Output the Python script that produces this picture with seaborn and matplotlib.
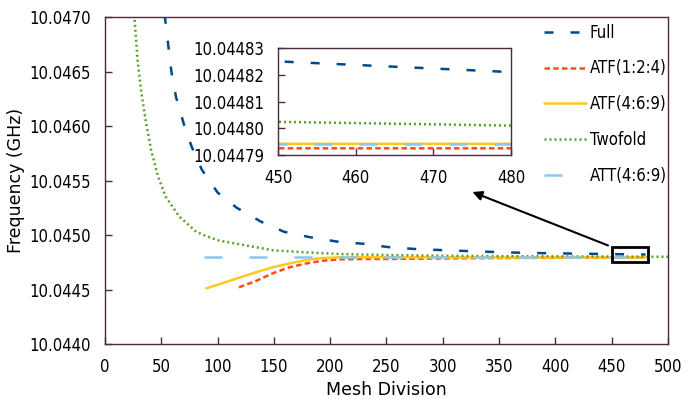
import pandas as pd
import matplotlib
matplotlib.use("Agg")
import matplotlib.pyplot as plt
import matplotlib.patches as patches
from matplotlib import font_manager as fm
from matplotlib.ticker import FormatStrFormatter
import seaborn as sns

full_x = [53, 59, 63, 70, 77, 86, 100, 117, 139, 159, 182, 206, 229, 251, 275, 298, 321, 344, 367, 392, 415, 450, 480]
full_y = [10.04702, 10.04650, 10.04627, 10.04602, 10.04581, 10.04560, 10.04539, 10.04525, 10.04512, 10.04503,
          10.04498, 10.04494, 10.04492, 10.04489, 10.044872, 10.044862, 10.044853, 10.044845, 10.044838,
          10.044833, 10.044830, 10.044825, 10.044821]

atf124_x = [119, 134, 149, 164, 179, 193, 208, 230, 260, 300, 350, 400, 450, 480]
atf124_y = [10.04452, 10.044578, 10.044649, 10.044704, 10.04474, 10.044764, 10.044777, 10.04478, 10.044781,
            10.044785, 10.044789, 10.044791, 10.0447925, 10.0447925]

atf469_x = [90, 104, 119, 134, 149, 164, 179, 193, 208, 230, 260, 300, 350, 400, 450, 480]
atf469_y = [10.044511, 10.044557, 10.044608, 10.044658, 10.044704, 10.04474, 10.044771, 10.044789, 10.044795,
            10.044796, 10.044795, 10.044795, 10.044794, 10.044794, 10.0447942, 10.0447942]

twofold_x = [26, 29, 32, 36, 41, 47, 54, 66, 81, 90, 101, 117, 149, 179, 208, 250, 300, 350, 400, 450, 480, 500]
twofold_y = [10.04702, 10.04660, 10.04633, 10.04606, 10.04578, 10.04554, 10.04535, 10.04517, 10.04503, 10.04499,
             10.04495, 10.04492, 10.04486, 10.044841, 10.044826, 10.044816, 10.04481, 10.044806, 10.044804,
             10.0448024, 10.044801, 10.0448005]

att_x = [88, 480]
att_y = [10.044794, 10.044794]

series = ["Full", "ATF(1:2:4)", "ATF(4:6:9)", "Twofold", "ATT(4:6:9)"]
colors = ["#004a8c", "#ff4a1c", "#ffc820", "#5aa02a", "#88c8f2"]
dash_styles = [(3.6, 6.8), (2.2, 1.3), "", (0.8, 1.2), (7.2, 10.8)]

frames = []
for name, xs, ys in zip(series, [full_x, atf124_x, atf469_x, twofold_x, att_x],
                        [full_y, atf124_y, atf469_y, twofold_y, att_y]):
    frames.append(pd.DataFrame({"mesh": xs, "freq": ys, "series": name}))
df = pd.concat(frames, ignore_index=True)

sns.set_style("ticks")
plt.rcParams["font.family"] = ["DejaVu Sans"]
plt.rcParams["text.color"] = "black"
plt.rcParams["axes.labelcolor"] = "black"

spine_col = "#4a2a45"


def pick_tick_font():
    for fam, kw in [("Liberation Sans Narrow", {}), ("DejaVu Sans", {"stretch": "condensed"})]:
        fp = fm.FontProperties(family=fam, size=12, **kw)
        try:
            path = fm.findfont(fp, fallback_to_default=False)
        except ValueError:
            continue
        if "Narrow" in path or "Condensed" in path:
            return fp
    return fm.FontProperties(family="DejaVu Sans", size=9.5)


tick_font = pick_tick_font()

fig = plt.figure(figsize=(6.97, 3.99), dpi=100)
ax = fig.add_axes([0.1506, 0.1378, 0.8078, 0.8195])

palette = dict(zip(series, colors))
dashes = dict(zip(series, dash_styles))

sns.lineplot(data=df, x="mesh", y="freq", hue="series", style="series", hue_order=series,
             style_order=series, palette=palette, dashes=dashes, linewidth=1.8, legend=False,
             estimator=None, ax=ax)

ax.set_xlim(0, 500)
ax.set_ylim(10.0440, 10.0470)
ax.set_xticks(range(0, 501, 50))
ax.set_yticks([10.0440, 10.0445, 10.0450, 10.0455, 10.0460, 10.0465, 10.0470])
ax.yaxis.set_major_formatter(FormatStrFormatter("%.4f"))
ax.set_xlabel("Mesh Division", fontsize=12.5, labelpad=4)
ax.set_ylabel("Frequency (GHz)", fontsize=12.5, labelpad=3)
ax.tick_params(direction="in", length=5, width=1, color=spine_col, labelcolor="black", pad=10)
for lbl in ax.get_xticklabels() + ax.get_yticklabels():
    lbl.set_fontproperties(tick_font)
for sp in ax.spines.values():
    sp.set_color(spine_col)
    sp.set_linewidth(1)

ax.legend(ax.lines[:5], series, loc="upper left", bbox_to_anchor=(0.78, 0.98), frameon=False,
          prop=tick_font, handlelength=2.5, handletextpad=0.25, labelspacing=1.07, borderpad=0,
          borderaxespad=0)

ax.add_patch(patches.Rectangle((450, 10.04475), 32, 0.00014, fill=False, edgecolor="black", lw=2, zorder=5))
ax.annotate("", xy=(324, 10.045404), xytext=(449, 10.044895),
            arrowprops=dict(arrowstyle="-|>", color="black", lw=1.5, mutation_scale=14))

axins = fig.add_axes([0.3989, 0.6115, 0.3343, 0.2682])
sns.lineplot(data=df, x="mesh", y="freq", hue="series", style="series", hue_order=series,
             style_order=series, palette=palette, dashes=dashes, linewidth=1.8, legend=False,
             estimator=None, ax=axins)
axins.set_xlim(450, 480)
axins.set_ylim(10.04479, 10.04483)
axins.set_xticks([450, 460, 470, 480])
axins.set_yticks([10.04479, 10.04480, 10.04481, 10.04482, 10.04483])
axins.yaxis.set_major_formatter(FormatStrFormatter("%.5f"))
axins.set_xlabel("")
axins.set_ylabel("")
axins.tick_params(direction="in", length=5, width=1, color=spine_col, labelcolor="black", pad=10)
for lbl in axins.get_xticklabels() + axins.get_yticklabels():
    lbl.set_fontproperties(tick_font)
for sp in axins.spines.values():
    sp.set_color(spine_col)
    sp.set_linewidth(1)

fig.savefig("out.png", dpi=100)
